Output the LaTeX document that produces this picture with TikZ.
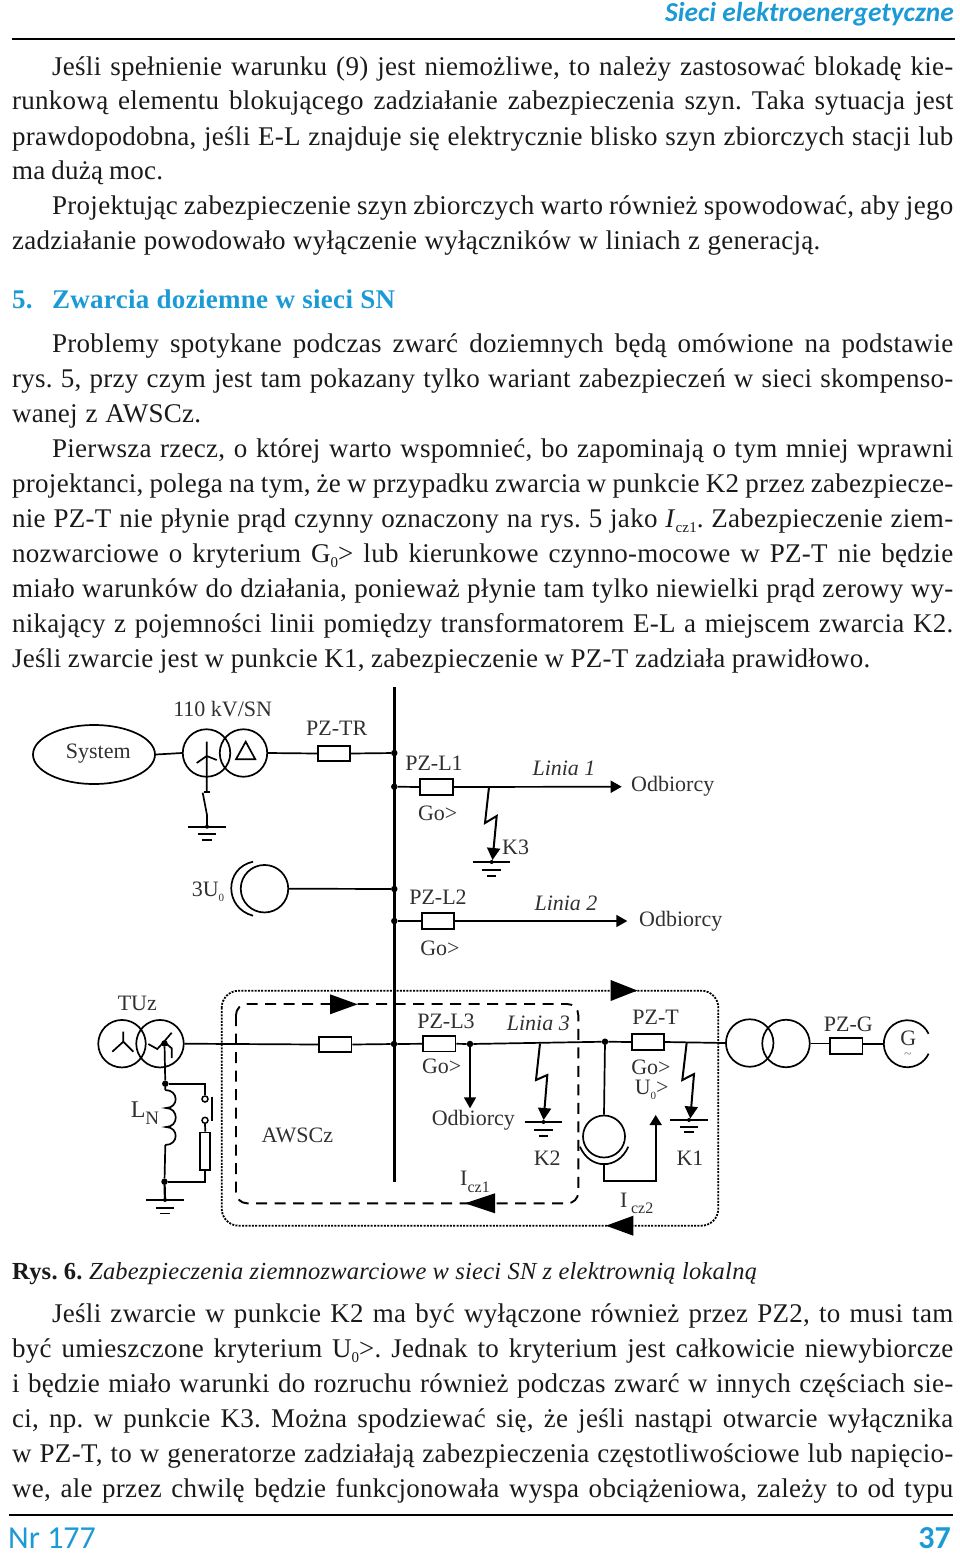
\documentclass[tikz,border=0pt]{standalone}
\usepackage{fontspec}
\setmainfont[LetterSpace=1.0]{Liberation Serif}
\newfontfamily\lbfont{Liberation Serif}
\newfontfamily\hdfont{Carlito}
\usetikzlibrary{arrows.meta,shapes.geometric}
\definecolor{hdblue}{HTML}{1C9AD6}
\definecolor{ink}{HTML}{1A1A1A}
\definecolor{labink}{HTML}{303030}
\hbadness=10000 \hfuzz=50pt
\frenchspacing
\newcounter{tlc}
\newcommand{\pgline}[4]{\stepcounter{tlc}\node[anchor=base west,inner sep=0pt,text=ink,font=\fontsize{27}{32}\selectfont] (t\thetlc) at (#1,#2) {\makebox[#3pt][s]{#4}};}
\newcommand{\sbs}[1]{\raisebox{-0.22em}{\fontsize{15}{16}\selectfont #1}}
\newcommand{\gndsym}[4]{%
  \fill (#1,#2) circle (2pt);
  \draw[gbar] (#1-#3,#2) -- (#1+#3,#2);
  \draw[gbar] (#1-#3/2,#2+#4) -- (#1+#3/2,#2+#4);
  \draw[gbar] (#1-#3/4,#2+#4*1.75) -- (#1+#3/4,#2+#4*1.75);}
\tikzset{
  wire/.style={line width=1.7pt,draw=black},
  busbar/.style={line width=3pt,draw=black},
  gbar/.style={line width=1.9pt,draw=black},
  relay/.style={draw=black,line width=1.7pt,fill=white,minimum width=32.5pt,minimum height=15.5pt,inner sep=0pt,rectangle},
  wind/.style={draw=black,line width=1.7pt,circle,minimum size=47.5pt,inner sep=0pt},
  junction/.style={circle,fill=black,minimum size=6.5pt,inner sep=0pt},
  lab/.style={inner sep=0pt,text=labink,font=\lbfont\fontsize{22}{24}\selectfont},
  ital/.style={lab,font=\lbfont\fontsize{22}{24}\selectfont\itshape},
  tiparrow/.style={-{Triangle[length=11pt,width=12pt]}},
  fault/.style={line width=2pt,-{Triangle[length=12pt,width=13pt]}},
  dashloop/.style={line width=1.9pt,dash pattern=on 11pt off 7.5pt,rounded corners=11pt},
  dotloop/.style={line width=1.8pt,dash pattern=on 2pt off 1.3pt,rounded corners=17pt},
}
\begin{document}
\begin{tikzpicture}[x=1pt,y=-1pt]
\useasboundingbox (0,0) rectangle (960,1555);
% header and footer
\node[anchor=base east,inner sep=0pt,text=hdblue,font=\hdfont\bfseries\itshape\fontsize{27.4}{32}\selectfont] (head) at (954,22) {Sieci elektroenergetyczne};
\draw[line width=2.6pt] (12,39) -- (955,39);
\draw[line width=2.6pt] (9,1515) -- (953,1515);
\node[anchor=base west,inner sep=0pt,text=hdblue,font=\hdfont\fontsize{32}{34}\selectfont] (nr) at (8,1548) {Nr 177};
\node[anchor=base east,inner sep=0pt,text=hdblue,font=\hdfont\bfseries\fontsize{32}{34}\selectfont] (pg) at (951,1548) {37};
% body text
\pgline{52}{75}{901}{Jeśli spełnienie warunku (9) jest niemożliwe, to należy zastosować blokadę kie-}
\pgline{12}{110}{941}{runkową elementu blokującego zadziałanie zabezpieczenia szyn. Taka sytuacja jest}
\pgline{12}{145}{941}{prawdopodobna, jeśli E-L znajduje się elektrycznie blisko szyn zbiorczych stacji lub}
\pgline{12}{179}{151}{ma dużą moc.}
\pgline{52}{214}{901}{Projektując zabezpieczenie szyn zbiorczych warto również spowodować, aby jego}
\pgline{12}{249}{808}{zadziałanie powodowało wyłączenie wyłączników w liniach z generacją.}
\node[anchor=base west,inner sep=0pt,text=hdblue,font=\bfseries\fontsize{27}{32}\selectfont] (h5) at (12,308) {5.};
\node[anchor=base west,inner sep=0pt,text=hdblue,font=\bfseries\fontsize{27}{32}\selectfont] (h5t) at (52,308) {\makebox[343pt][s]{Zwarcia doziemne w sieci SN}};
\pgline{52}{352}{901}{Problemy spotykane podczas zwarć doziemnych będą omówione na podstawie}
\pgline{12}{387}{941}{rys. 5, przy czym jest tam pokazany tylko wariant zabezpieczeń w sieci skompenso-}
\pgline{12}{422}{189}{wanej z AWSCz.}
\pgline{52}{457}{901}{Pierwsza rzecz, o której warto wspomnieć, bo zapominają o tym mniej wprawni}
\pgline{12}{492}{941}{projektanci, polega na tym, że w przypadku zwarcia w punkcie K2 przez zabezpiecze-}
\pgline{12}{527}{941}{nie PZ-T nie płynie prąd czynny oznaczony na rys. 5 jako \textit{I}\sbs{cz1}. Zabezpieczenie ziem-}
\pgline{12}{562}{941}{nozwarciowe o kryterium G\sbs{0}> lub kierunkowe czynno-mocowe w PZ-T nie będzie}
\pgline{12}{597}{941}{miało warunków do działania, ponieważ płynie tam tylko niewielki prąd zerowy wy-}
\pgline{12}{632}{941}{nikający z pojemności linii pomiędzy transformatorem E-L a miejscem zwarcia K2.}
\pgline{12}{667}{858}{Jeśli zwarcie jest w punkcie K1, zabezpieczenie w PZ-T zadziała prawidłowo.}
\node[anchor=base west,inner sep=0pt,text=ink,font=\fontsize{24.5}{28}\selectfont] (cap) at (12,1279) {\makebox[745pt][s]{\textbf{Rys. 6.} \textit{Zabezpieczenia ziemnozwarciowe w sieci SN z elektrownią lokalną}}};
\pgline{52}{1322}{901}{Jeśli zwarcie w punkcie K2 ma być wyłączone również przez PZ2, to musi tam}
\pgline{12}{1357}{941}{być umieszczone kryterium U\sbs{0}>. Jednak to kryterium jest całkowicie niewybiorcze}
\pgline{12}{1392}{941}{i będzie miało warunki do rozruchu również podczas zwarć w innych częściach sie-}
\pgline{12}{1427}{941}{ci, np. w punkcie K3. Można spodziewać się, że jeśli nastąpi otwarcie wyłącznika}
\pgline{12}{1462}{941}{w PZ-T, to w generatorze zadziałają zabezpieczenia częstotliwościowe lub napięcio-}
\pgline{12}{1497}{941}{we, ale przez chwilę będzie funkcjonowała wyspa obciążeniowa, zależy to od typu}

% ---- diagram ----
\coordinate (busT) at (394.3,687);
\coordinate (busB) at (394.3,1182);
\draw[busbar] (busT) -- (busB);
\node[junction] (j1) at (394.3,753) {};
\node[junction] (j2) at (394.3,786.7) {};
\node[junction] (j3) at (394.3,889) {};
\node[junction] (j4) at (394.3,921) {};
\node[junction] (j5) at (394,1044) {};

% system + transformer
\node[draw=black,line width=1.7pt,ellipse,minimum width=122pt,minimum height=59pt,inner sep=0pt] (sys) at (94,754.5) {};
\node[lab] (syst) at (98.3,754) {System};
\node[wind] (t1a) at (206.5,753) {};
\node[wind] (t1b) at (243.5,753) {};
\node[lab] (t1l) at (222.7,709.3) {110 kV/SN};
\node[relay] (pztr) at (334,753.5) {};
\node[lab] (pztrl) at (336.7,728) {PZ-TR};
\draw[wire] (sys.east) -- (t1a.west);
\draw[wire] (t1b.east) -- (pztr.west);
\draw[wire] (pztr.east) -- (j1);
\draw[wire] (236,759.3) -- (245.7,741.7) -- (255.3,759.3) -- cycle;
\coordinate (st) at (206.7,756);
\draw[wire] (206.7,741.7) -- (206.7,791.7) (196.7,763) -- (st) -- (216.7,760);
\draw[wire] (204,791.7) -- (209.5,791.7);
\coordinate (g1) at (207,826.7);
\draw[wire] (202.7,792.7) -- (207,815) -- (g1);
\gndsym{207}{826.7}{18.7}{7.6}

% 3U0
\node[wind] (u3) at (264.5,888.7) {};
\draw[wire] (253,861.7) .. controls (224,868) and (224,908) .. (253,915.7);
\node[lab] (u3l) at (208,891.7) {3U\raisebox{-0.25em}{\fontsize{11}{12}\selectfont 0}};
\draw[wire] (u3.east) -- (j3);

% line 1
\node[relay] (l1) at (436.5,787) {};
\node[lab] (l1l) at (434,763) {PZ-L1};
\node[lab] (l1g) at (437.7,813) {Go>};
\coordinate (a1) at (621.7,786.7);
\node[ital] (l1n) at (564,768) {Linia 1};
\node[lab,anchor=west] (o1) at (631,786) {Odbiorcy};
\draw[wire] (j2) -- (l1.west);
\draw[wire,tiparrow] (l1.east) -- (a1);
\coordinate (k3s) at (489,787);
\coordinate (k3e) at (491.7,862);
\draw[fault] (k3s) -- (485,823) -- (496.7,816) -- (492.5,860);
\gndsym{491.7}{862}{18.7}{8}
\node[lab,anchor=west] (k3) at (502,847) {K3};

% line 2
\node[relay] (l2) at (438,921) {};
\node[lab] (l2l) at (438,897) {PZ-L2};
\node[lab] (l2g) at (440,948) {Go>};
\coordinate (a2) at (627.3,921);
\node[ital] (l2n) at (566,903) {Linia 2};
\node[lab,anchor=west] (o2) at (639,921) {Odbiorcy};
\draw[wire] (j4) -- (l2.west);
\draw[wire,tiparrow] (l2.east) -- (a2);

% earthing transformer
\node[wind] (tza) at (122,1043.7) {};
\node[wind] (tzb) at (160,1043.7) {};
\node[lab] (tzl) at (137.3,1003) {TUz};
\draw[wire] (123.3,1031.7) -- (123.3,1041.7) (112.3,1051.7) -- (123.3,1041.7) -- (133.3,1051.7);
\draw[wire] (148.3,1044) -- (157.3,1049) -- (164,1041.7) -- (171.7,1048.3) -- (171.7,1058);
\draw[wire] (164,1041.7) -- (171.7,1032.7);
\node[junction] (jz) at (164.5,1043.5) {};
\node[junction] (jn1) at (165.3,1083.7) {};
\node[junction] (jn2) at (164.5,1181.7) {};
\coordinate (cT) at (165.3,1090);
\coordinate (cB) at (165.3,1145);
\draw[wire] (jz) -- (jn1) -- (cT);
\draw[wire] (cT) .. controls (179,1090) and (179,1108) .. (166,1108)
  .. controls (179,1108) and (179,1127) .. (166,1127)
  .. controls (179,1127) and (179,1145) .. (cB);
\coordinate (gz) at (165,1200);
\draw[wire] (cB) -- (jn2);
\draw[line width=2.2pt] (jn2) -- (gz);
\gndsym{165}{1200}{18.8}{7.7}
\node[lab,font=\lbfont\fontsize{24}{26}\selectfont] (ln) at (145,1113) {L\raisebox{-0.3em}{\fontsize{19}{20}\selectfont N}};
\node[circle,draw=black,line width=1.5pt,minimum size=6pt,inner sep=0pt] (sw1) at (205,1099) {};
\node[circle,draw=black,line width=1.5pt,minimum size=6pt,inner sep=0pt] (sw2) at (205,1120.3) {};
\draw[wire] (jn1) -| (sw1.north);
\draw[line width=2pt] (212.3,1096.7) -- (212.3,1120.7);
\node[draw=black,line width=1.7pt,minimum width=10pt,minimum height=37.5pt,inner sep=0pt] (rn) at (205.3,1151.3) {};
\draw[wire] (sw2.south) -- (rn.north);
\draw[wire] (rn.south) |- (jn2);

% main line
\node[relay] (lt) at (335.3,1044.5) {};
\node[relay] (l3) at (439.2,1043.8) {};
\node[junction] (jl) at (470,1044) {};
\node[junction] (jt) at (605,1041.7) {};
\node[relay] (pzt) at (648,1042) {};
\node[wind] (trA) at (749.7,1043) {};
\node[wind] (trB) at (786,1043.5) {};
\node[relay] (pzg) at (846.3,1046) {};
\draw[wire] (tzb.east) -- (lt.west);
\draw[wire] (lt.east) -- (j5);
\draw[wire] (j5) -- (l3.west);
\draw[wire] (l3.east) -- (jl);
\draw[wire] (jl) -- (jt);
\draw[wire] (jt) -- (pzt.west);
\draw[wire] (pzt.east) -- (trA.west);
\draw[wire] (trB.east) -- (trB.east -| pzg.west);
\coordinate (gen) at (883.8,1043.7);
\draw[wire] (gen -| pzg.east) -- (gen);
\draw[wire] (928.6,1033.8) arc[start angle=25,end angle=335,radius=23.5pt];
\node[lab] (gt) at (908.3,1038) {G};
\node[lab,text=gray,font=\lbfont\fontsize{14}{15}\selectfont] (gs) at (908,1056) {\textasciitilde};
\node[lab] (pzgl) at (848.3,1024) {PZ-G};
\node[lab] (l3l) at (446,1021.7) {PZ-L3};
\node[lab] (l3g) at (441.7,1066.7) {Go>};
\node[ital] (l3n) at (538.3,1023.3) {Linia 3};
\node[lab] (pztl) at (655.7,1017.7) {PZ-T};
\node[lab] (pztg) at (651,1067.7) {Go>};
\node[lab] (pztu) at (651.7,1090) {U\raisebox{-0.25em}{\fontsize{11}{12}\selectfont 0}>};
\coordinate (a3) at (470,1108.3);
\draw[wire,tiparrow] (jl) -- (a3);
\node[lab] (o3) at (473.3,1120.7) {Odbiorcy};
\node[lab] (aw) at (297.3,1135.7) {AWSCz};

% faults K2 K1
\coordinate (k2s) at (540,1043.5);
\draw[fault] (k2s) -- (536,1080) -- (547.3,1075) -- (543.6,1120);
\gndsym{543.5}{1122}{18.8}{8}
\node[lab] (k2) at (547.3,1158.3) {K2};
\coordinate (k1s) at (686.7,1042.5);
\draw[fault] (k1s) -- (682.3,1080) -- (694,1074) -- (690.3,1118.5);
\gndsym{689}{1120}{18.8}{7}
\node[lab] (k1) at (690,1158.3) {K1};

% current transformer
\node[circle,draw=black,line width=1.7pt,minimum size=42pt,inner sep=0pt] (ct) at (604,1136.5) {};
\draw[wire] (jt) -- (ct.north);
\draw[wire] (580,1146.7) .. controls (590,1170) and (618,1170) .. (628.3,1146.7);
\coordinate (ctb) at (604,1163.3);
\coordinate (ctc) at (655.7,1115);
\draw[wire,-{Triangle[length=10pt,width=12pt]}] (ctb) |- (655.7,1180.7) -- (ctc);
\node[lab] (ic2) at (636.7,1203.3) {I\,\raisebox{-0.3em}{\fontsize{16}{18}\selectfont cz2}};
\node[lab] (ic1) at (475,1181.7) {I\raisebox{-0.3em}{\fontsize{16}{18}\selectfont cz1}};

% loops
\draw[dashloop] (236,1004) rectangle (578.3,1203.3);
\draw[dotloop] (221.7,990.7) rectangle (718.3,1225.7);
\fill (330,994.3) -- (357.7,1004.3) -- (330,1014.3) -- cycle;
\fill (495,1193.3) -- (465,1203.3) -- (495,1213.3) -- cycle;
\fill (610.7,980) -- (637.3,990.5) -- (610.7,1001) -- cycle;
\fill (633.3,1215.7) -- (606,1225.7) -- (633.3,1235.7) -- cycle;
\end{tikzpicture}
\end{document}
